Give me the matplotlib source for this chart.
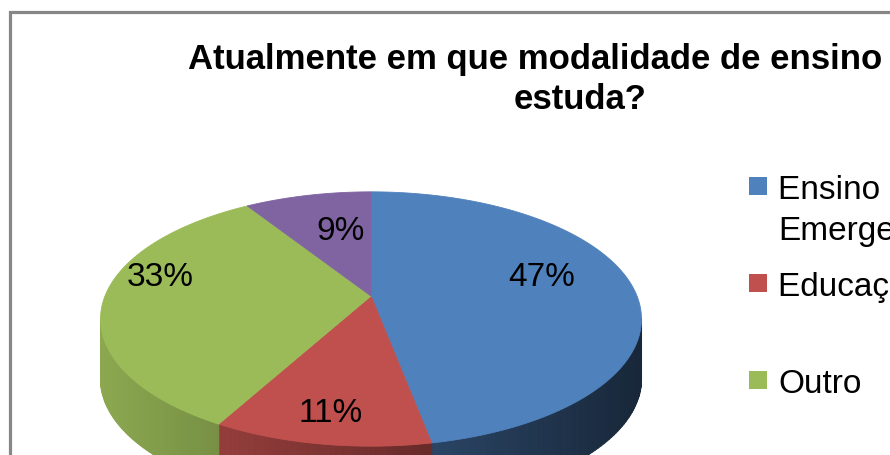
import numpy as np
import matplotlib
matplotlib.use("Agg")
import matplotlib.pyplot as plt
from matplotlib.colors import to_rgb
from matplotlib.collections import PolyCollection
from matplotlib.patches import Polygon, Rectangle

# Données
title = "Atualmente em que modalidade de ensino você\nestuda?"
categories = ["Ensino Remoto\nEmergencial", "Educação a Distância", "Outro", "Presencial"]
values = [47, 11, 33, 9]
colors = ["#4F81BD", "#C0504D", "#9BBB59", "#8064A2"]

# Géométrie du camembert 3D (pixels)
cx, cy = 371, 297
rx, ry = 266, 123
persp = 0.181
depth = 60
label_r = [0.68, 0.82, 0.83, 0.60]
label_frac = [0.45, 0.5, 0.61, 0.62]

plt.rcParams['font.family'] = ['Liberation Sans', 'DejaVu Sans']


def project(r, theta):
    # theta en degrés, sens horaire depuis midi
    t = np.radians(theta)
    x3 = r * np.sin(t)
    z3 = r * np.cos(t)
    k = 1 + persp * z3
    return cx + rx * x3 / k, cy - ry * z3 / k


def shade(x):
    return 0.9 - 0.6 * (x - 100) / 542


fig = plt.figure(figsize=(8.9, 4.56), dpi=100)
ax = fig.add_axes([0, 0, 1, 1])
ax.set_xlim(0, 890)
ax.set_ylim(456, 0)
ax.axis('off')

# Cadre du graphique
ax.plot([9.5, 9.5, 900], [470, 12.5, 12.5], color="#878787", lw=2.3,
        solid_joinstyle='miter')

total = float(sum(values))
bounds = np.concatenate([[0], np.cumsum(values) / total * 360])

# Faces latérales (partie visible devant)
quads, qcolors = [], []
for i, val in enumerate(values):
    a0, a1 = bounds[i], bounds[i + 1]
    th = np.linspace(a0, a1, max(int((a1 - a0) / 1.0), 2) + 1)
    for t0, t1 in zip(th[:-1], th[1:]):
        tm = 0.5 * (t0 + t1)
        if np.cos(np.radians(tm)) >= -persp:
            continue
        x0, y0 = project(1, t0)
        x1, y1 = project(1, t1)
        quads.append([(x0, y0), (x1, y1), (x1, y1 + depth), (x0, y0 + depth)])
        f = shade(0.5 * (x0 + x1))
        qcolors.append(tuple(np.clip(np.array(to_rgb(colors[i])) * f, 0, 1)))
ax.add_collection(PolyCollection(quads, facecolors=qcolors, edgecolors=qcolors,
                                 linewidths=0.8))

# Faces du dessus
for i, val in enumerate(values):
    a0, a1 = bounds[i], bounds[i + 1]
    th = np.linspace(a0, a1, 200)
    xs, ys = project(1, th)
    pts = [(cx, cy)] + list(zip(xs, ys))
    ax.add_patch(Polygon(pts, closed=True, fc=colors[i], ec=colors[i], lw=0.6))

# Étiquettes de pourcentage
for i, val in enumerate(values):
    a0, a1 = bounds[i], bounds[i + 1]
    tm = a0 + label_frac[i] * (a1 - a0)
    lx, ly = project(label_r[i], tm)
    ax.text(lx, ly, f"{val / total * 100:.0f}%", fontsize=24,
            ha='center', va='center', color='black')

# Légende
leg_y0, leg_step = 187, 97
for i, name in enumerate(categories):
    yc = leg_y0 + i * leg_step
    ax.add_patch(Rectangle((749, yc - 9), 18, 18, fc=colors[i], ec='none'))
    for j, line in enumerate(name.split("\n")):
        ax.text(778, yc + 12 + j * 41, line, fontsize=24, ha='left',
                va='baseline', color='black')

# Titre
for j, line in enumerate(title.split("\n")):
    ax.text(580, 69 + j * 40, line, fontsize=25, fontweight='bold',
            ha='center', va='baseline', color='black')

fig.savefig("out.png", dpi=100, facecolor='white')
